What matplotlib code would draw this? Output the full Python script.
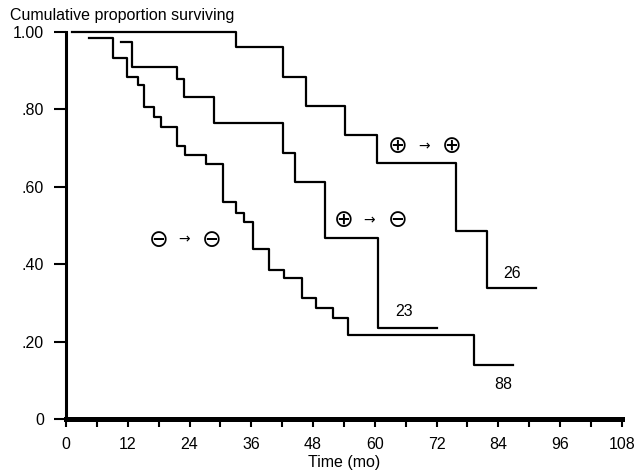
import numpy as np
import matplotlib.pyplot as plt

# survival curves (months, proportion)
t_pp = [1.2, 33.1, 42.2, 46.7, 54.3, 60.5, 75.7, 81.7, 91.4]
s_pp = [1.0, 0.961, 0.884, 0.81, 0.734, 0.662, 0.486, 0.339, 0.339]

t_pm = [10.7, 12.8, 21.6, 23.0, 28.8, 42.2, 44.4, 50.4, 60.7, 72.0]
s_pm = [0.974, 0.91, 0.878, 0.832, 0.765, 0.687, 0.612, 0.467, 0.235, 0.235]

t_mm = [4.5, 9.1, 11.9, 14.0, 15.2, 17.1, 18.5, 21.6, 23.2, 27.2, 30.5,
        33.1, 34.6, 36.4, 39.5, 42.4, 45.9, 48.6, 51.8, 54.7, 79.2, 86.8]
s_mm = [0.984, 0.933, 0.884, 0.863, 0.806, 0.78, 0.755, 0.705, 0.682, 0.659,
        0.561, 0.532, 0.509, 0.439, 0.385, 0.364, 0.313, 0.287, 0.261, 0.217,
        0.14, 0.14]

n_labels = ['26', '23', '88']
x_ticks = np.arange(0, 109, 6)
x_ticklabels = [str(v) if v % 12 == 0 else '' for v in x_ticks]
y_ticks = [0, 0.2, 0.4, 0.6, 0.8, 1.0]
y_ticklabels = ['0', '.20', '.40', '.60', '.80', '1.00']

plt.rcParams['font.family'] = ['Liberation Sans', 'DejaVu Sans']

fig = plt.figure(figsize=(6.36, 4.74), dpi=100)
ax = fig.add_axes([0.1038, 0.116, 0.874, 0.8165])

for t, s in [(t_pp, s_pp), (t_pm, s_pm), (t_mm, s_mm)]:
    ax.plot(t, s, drawstyle='steps-post', color='black', lw=1.6, clip_on=False)

ax.set_xlim(0, 108)
ax.set_ylim(0, 1.0)
ax.spines['top'].set_visible(False)
ax.spines['right'].set_visible(False)
ax.spines['left'].set_linewidth(2.2)
ax.spines['bottom'].set_linewidth(3.6)

ax.set_xticks(x_ticks)
ax.set_xticklabels(x_ticklabels, fontsize=11.5)
ax.set_yticks(y_ticks)
ax.set_yticklabels(y_ticklabels, fontsize=11.5)
ax.tick_params(axis='x', length=6, width=1.5, pad=7)
ax.tick_params(axis='y', length=9, width=1.5, pad=7)

ax.set_xlabel('Time (mo)', fontsize=11.5, labelpad=2)
fig.text(0.016, 0.968, 'Cumulative proportion surviving', fontsize=11.5,
         ha='left', va='center')

# group markers
sym = dict(fontsize=17, ha='center', va='center', family='DejaVu Sans')
arr = dict(fontsize=10, ha='center', va='center', family='DejaVu Sans')
ax.text(64.4, 0.705, '\u2295', **sym)
ax.text(69.5, 0.705, '\u2192', **arr)
ax.text(74.9, 0.705, '\u2295', **sym)

ax.text(53.9, 0.514, '\u2295', **sym)
ax.text(58.9, 0.514, '\u2192', **arr)
ax.text(64.4, 0.514, '\u2296', **sym)

ax.text(18.1, 0.463, '\u2296', **sym)
ax.text(23.0, 0.463, '\u2192', **arr)
ax.text(28.4, 0.463, '\u2296', **sym)

for lab, (x, y) in zip(n_labels, [(86.6, 0.377), (65.6, 0.279), (85.0, 0.088)]):
    ax.text(x, y, lab, fontsize=11.5, ha='center', va='center')

fig.savefig('out.png', dpi=100)
